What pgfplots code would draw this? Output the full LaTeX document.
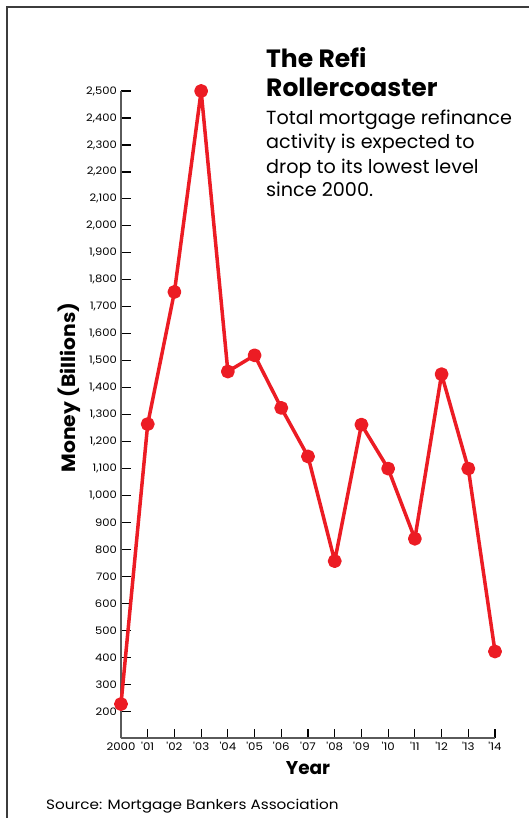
\documentclass[border=0pt]{standalone}
\usepackage{fontspec}
\setmainfont{Poppins}
\newfontfamily\wide{Poppins}[FakeStretch=1.12]
\newfontfamily\sub{Poppins}[FakeStretch=1.01]
\newfontfamily\wideb{Poppins}[FakeStretch=1.06, UprightFont=*-Bold]
\usepackage{pgfplots}
\pgfplotsset{compat=1.18}
\definecolor{refired}{HTML}{EC1C24}
\definecolor{axgray}{HTML}{5A5A5A}
\definecolor{framegray}{HTML}{3C3C3C}
\begin{document}
\begin{tikzpicture}
\useasboundingbox (0pt,0pt) rectangle (528pt,-818pt);
\draw[line width=1.6pt, color=framegray] (7pt,-7pt) rectangle (600pt,-900pt);
\begin{axis}[
  at={(121pt,-738.3pt)}, anchor=south west,
  scale only axis, width=374pt, height=647.3pt,
  xmin=0, xmax=14, ymin=100, ymax=2500,
  axis x line*=bottom, axis y line*=left,
  axis line style={line width=1.8pt, color=axgray},
  xtick={0,...,14},
  xticklabels={2000,'01,'02,'03,'04,'05,'06,'07,'08,'09,'10,'11,'12,'13,'14},
  ytick={200,300,...,2500},
  tick align=inside,
  major tick length=9.5pt,
  tick style={line width=1.2pt, color=black},
  /pgf/number format/assume math mode=true,
  /pgf/number format/1000 sep={,},
  yticklabel style={font=\wide\fontsize{10.3}{12}\selectfont, anchor=east, inner sep=0pt, xshift=-4pt},
  xticklabel style={font=\wide\fontsize{10.5}{12}\selectfont, anchor=base, inner sep=0pt, yshift=-11.7pt},
  xlabel={Year},
  xlabel style={at={(axis description cs:0.5,-0.0552)}, anchor=base, font=\fontsize{18.5}{20}\selectfont\bfseries},
  ylabel={Money (Billions)},
  ylabel style={at={(axis description cs:-0.1217,0.542)}, anchor=base, font=\wideb\fontsize{19.2}{22}\selectfont},
  clip=false,
]
\addplot[color=refired, line width=3.5pt, line join=round, line cap=round, mark=*, mark size=5.2pt, mark options={fill=refired, draw=none, solid}] coordinates {
(0,227) (1,1265) (2,1755) (3,2500) (4,1460) (5,1520) (6,1325) (7,1145)
(8,757) (9,1263) (10,1100) (11,840) (12,1450) (13,1100) (14,422)
};
\end{axis}
\node[anchor=base west, inner sep=0pt, font=\fontsize{25}{30}\selectfont\bfseries] at (266pt,-67.3pt) {The Refi};
\node[anchor=base west, inner sep=0pt, font=\fontsize{25}{30}\selectfont\bfseries] at (266pt,-96.7pt) {Rollercoaster};
\node[anchor=base west, inner sep=0pt, font=\sub\fontsize{19}{24}\selectfont] at (266pt,-125pt) {Total mortgage refinance};
\node[anchor=base west, inner sep=0pt, font=\sub\fontsize{19}{24}\selectfont] at (266pt,-149pt) {activity is expected to};
\node[anchor=base west, inner sep=0pt, font=\sub\fontsize{19}{24}\selectfont] at (266pt,-173.3pt) {drop to its lowest level};
\node[anchor=base west, inner sep=0pt, font=\sub\fontsize{19}{24}\selectfont] at (266pt,-196.7pt) {since 2000.};
\node[anchor=base west, inner sep=0pt, font=\wide\fontsize{13.6}{16}\selectfont] at (46pt,-809pt) {Source: Mortgage Bankers Association};
\end{tikzpicture}
\end{document}
